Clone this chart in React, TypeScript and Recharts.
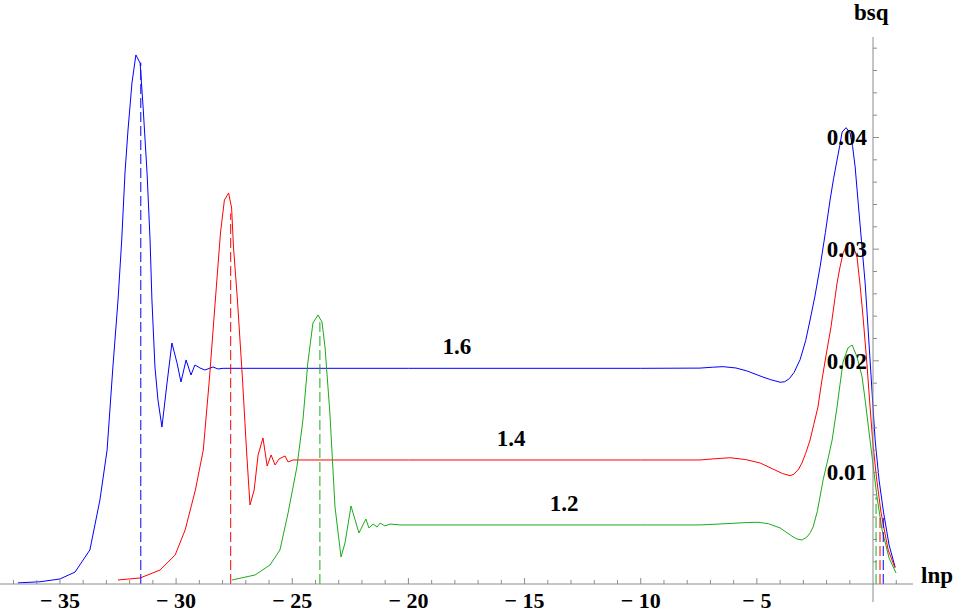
import React from "react";
import { LineChart, Line, XAxis, YAxis, ReferenceLine, ReferenceDot } from "recharts";

// lnp / bsq curves
const blue16: [number, number][] = [
  [-36.81, 0.0001], [-35.86, 0.0002], [-35.0, 0.00045], [-34.35, 0.00107], [-33.71, 0.00305],
  [-33.28, 0.00752], [-32.97, 0.012], [-32.72, 0.01944], [-32.5, 0.02544], [-32.34, 0.03082],
  [-32.2, 0.03682], [-32.07, 0.04067], [-31.9, 0.04488], [-31.73, 0.04739], [-31.55, 0.04667],
  [-31.42, 0.04273], [-31.25, 0.03682], [-31.12, 0.03082], [-31.04, 0.02544], [-30.91, 0.01944],
  [-30.78, 0.01648], [-30.61, 0.01406], [-30.39, 0.01801], [-30.18, 0.02159], [-29.96, 0.0198],
  [-29.79, 0.0181], [-29.57, 0.02007], [-29.36, 0.01872], [-29.19, 0.01962], [-28.97, 0.01935],
  [-28.76, 0.01917], [-28.41, 0.01944], [-28.2, 0.01926], [-27.98, 0.01932], [-20.0, 0.01932],
  [-10.0, 0.01932], [-7.45, 0.01934], [-6.9, 0.01942], [-6.46, 0.01947], [-5.9, 0.01935],
  [-5.42, 0.01908], [-4.74, 0.01854], [-4.4, 0.0183], [-4.0, 0.01807], [-3.8, 0.01812],
  [-3.6, 0.0184], [-3.4, 0.01895], [-3.14, 0.0201], [-2.9, 0.0218], [-2.71, 0.02365],
  [-2.5, 0.0258], [-2.28, 0.0284], [-2.05, 0.0315], [-1.85, 0.0344], [-1.7, 0.0363],
  [-1.55, 0.03798], [-1.43, 0.0393], [-1.33, 0.04049], [-1.16, 0.04088], [-0.99, 0.0404],
  [-0.88, 0.0392], [-0.77, 0.03736], [-0.65, 0.0344], [-0.5, 0.0308], [-0.34, 0.02696],
  [-0.22, 0.0231], [-0.11, 0.01944], [-0.02, 0.01648], [0.09, 0.0129], [0.26, 0.0093],
  [0.45, 0.00645], [0.69, 0.00349], [0.95, 0.00152],
];

const red14: [number, number][] = [
  [-32.5, 0.00036], [-31.55, 0.00054], [-30.69, 0.00125], [-30.04, 0.0026], [-29.61, 0.00484],
  [-29.17, 0.00842], [-28.83, 0.012], [-28.57, 0.01827], [-28.31, 0.02544], [-28.09, 0.03144],
  [-27.92, 0.0344], [-27.74, 0.03503], [-27.61, 0.03368], [-27.53, 0.03019], [-27.36, 0.02544],
  [-27.14, 0.01827], [-26.97, 0.012], [-26.82, 0.00708], [-26.64, 0.00842], [-26.47, 0.01156],
  [-26.26, 0.01308], [-26.08, 0.01057], [-25.91, 0.01156], [-25.74, 0.01066], [-25.57, 0.0112],
  [-25.31, 0.01147], [-25.18, 0.01093], [-24.97, 0.01111], [-20.0, 0.01111], [-10.0, 0.01111],
  [-7.45, 0.01111], [-6.8, 0.01122], [-6.16, 0.01131], [-5.5, 0.01115], [-4.86, 0.01084],
  [-4.22, 0.01021], [-3.9, 0.0099], [-3.57, 0.0097], [-3.4, 0.00985], [-3.2, 0.0103],
  [-3.06, 0.01084], [-2.9, 0.0117], [-2.71, 0.0129], [-2.55, 0.0143], [-2.37, 0.01586],
  [-2.2, 0.01827], [-2.02, 0.02051], [-1.81, 0.02302], [-1.55, 0.02696], [-1.42, 0.0284],
  [-1.29, 0.02965], [-1.14, 0.0303], [-0.99, 0.03055], [-0.84, 0.0302], [-0.69, 0.02929],
  [-0.56, 0.0268], [-0.43, 0.02392], [-0.26, 0.01962], [-0.15, 0.01648], [-0.02, 0.0129],
  [0.15, 0.0095], [0.34, 0.00645], [0.65, 0.00305], [0.95, 0.00143],
];

const green12: [number, number][] = [
  [-27.59, 0.00036], [-26.6, 0.00081], [-25.96, 0.0017], [-25.53, 0.00305], [-25.18, 0.00636],
  [-24.8, 0.01048], [-24.54, 0.01469], [-24.33, 0.0198], [-24.11, 0.02338], [-23.89, 0.0241],
  [-23.72, 0.02347], [-23.59, 0.02123], [-23.38, 0.01532], [-23.16, 0.0069], [-22.9, 0.00242],
  [-22.73, 0.00367], [-22.47, 0.00699], [-22.13, 0.00457], [-21.83, 0.00582], [-21.7, 0.00502],
  [-21.52, 0.00537], [-21.35, 0.00511], [-21.22, 0.00546], [-21.01, 0.0052], [-20.79, 0.00537],
  [-20.36, 0.00529], [-10.0, 0.00529], [-7.45, 0.00529], [-6.16, 0.00542], [-5.5, 0.0055],
  [-4.95, 0.00553], [-4.5, 0.0054], [-4.0, 0.00502], [-3.5, 0.0043], [-3.3, 0.00405],
  [-3.06, 0.00394], [-2.85, 0.0042], [-2.7, 0.0046], [-2.58, 0.00511], [-2.4, 0.0065],
  [-2.15, 0.00932], [-1.95, 0.0111], [-1.76, 0.0129], [-1.55, 0.01586], [-1.42, 0.0179],
  [-1.29, 0.0199], [-1.08, 0.02114], [-0.9, 0.02141], [-0.69, 0.02034], [-0.47, 0.01854],
  [-0.34, 0.01648], [-0.13, 0.0129], [0.17, 0.00779], [0.39, 0.00484], [0.69, 0.00233],
  [0.99, 0.00099],
];

// dashed drop lines: [lnp, bsq top]
const blueDrops: [number, number][] = [[-31.52, 0.0467], [0.44, 0.006]];
const redDrops: [number, number][] = [[-27.65, 0.0332], [0.3, 0.006]];
const greenDrops: [number, number][] = [[-23.81, 0.0235], [0.13, 0.0078]];

// curve labels: [lnp, bsq, text]
const curveLabels: [number, number, string][] = [
  [-17.91, 0.02132, "1.6"],
  [-15.58, 0.01308, "1.4"],
  [-13.3, 0.00726, "1.2"],
];

const X_TICKS = [
  -37, -36, -35, -34, -33, -32, -31, -30, -29, -28, -27, -26, -25, -24, -23, -22, -21, -20,
  -19, -18, -17, -16, -15, -14, -13, -12, -11, -10, -9, -8, -7, -6, -5, -4, -3, -2, -1, 1,
];
const Y_TICKS = [
  0.002, 0.004, 0.006, 0.008, 0.01, 0.012, 0.014, 0.016, 0.018, 0.02, 0.022, 0.024,
  0.026, 0.028, 0.03, 0.032, 0.034, 0.036, 0.038, 0.04, 0.042, 0.044, 0.046, 0.048,
];

const BLUE = "#0000ff";
const RED = "#ff0000";
const GREEN = "#1aab1a";
const AXIS = "#8c8c8c";
const SERIF = "'Liberation Serif', 'Times New Roman', serif";

const toRows = (pts: [number, number][]) => pts.map(([lnp, bsq]) => ({ lnp, bsq }));

function XTick({ x, y, payload }: any) {
  const v = payload.value as number;
  const major = v % 5 === 0;
  return (
    <g>
      <line x1={x} y1={y} x2={x} y2={y - (major ? 6 : 4)} stroke={AXIS} />
      {major && (
        <text x={x} y={y + 24} textAnchor="middle" fontSize={22} fontWeight="bold" fontFamily={SERIF} fill="#000">
          {`\u2212 ${Math.abs(v)}`}
        </text>
      )}
    </g>
  );
}

function YTick({ x, y, payload }: any) {
  const v = payload.value as number;
  const major = Math.abs(v * 100 - Math.round(v * 100)) < 1e-6;
  return (
    <g>
      <line x1={x} y1={y} x2={x + (major ? 6 : 4)} y2={y} stroke={AXIS} />
      {major && (
        <text x={x - 6} y={y + 8} textAnchor="end" fontSize={23} fontWeight="bold" fontFamily={SERIF} fill="#000">
          {v.toFixed(2)}
        </text>
      )}
    </g>
  );
}

export default function App() {
  const series = [
    { rows: toRows(blue16), color: BLUE, drops: blueDrops },
    { rows: toRows(red14), color: RED, drops: redDrops },
    { rows: toRows(green12), color: GREEN, drops: greenDrops },
  ];

  return (
    <div style={{ position: "absolute", left: 0, top: 0, width: 960, height: 613, background: "#fff" }}>
      <div style={{ position: "absolute", left: 0, top: 0 }}>
        <LineChart width={960} height={613} margin={{ top: 37, right: 47, bottom: 0, left: 0 }}>
          <XAxis
            type="number"
            dataKey="lnp"
            domain={[-37.58, 1.72]}
            ticks={X_TICKS}
            interval={0}
            allowDataOverflow
            height={29}
            tickSize={0}
            tickMargin={0}
            tickLine={false}
            axisLine={{ stroke: AXIS }}
            tick={<XTick />}
          />
          <YAxis type="number" dataKey="bsq" domain={[0, 0.049]} allowDataOverflow hide />
          {series.map((s, i) => (
            <Line
              key={`line-${i}`}
              data={s.rows}
              dataKey="bsq"
              type="linear"
              stroke={s.color}
              strokeWidth={1}
              dot={false}
              activeDot={false}
              isAnimationActive={false}
            />
          ))}
          {series.flatMap((s, i) =>
            s.drops.map(([x, top], j) => (
              <ReferenceLine
                key={`drop-${i}-${j}`}
                segment={[{ x, y: 0 }, { x, y: top }]}
                stroke={s.color}
                strokeDasharray="10 4"
                strokeWidth={1}
              />
            ))
          )}
          {curveLabels.map(([x, y, text]) => (
            <ReferenceDot
              key={text}
              x={x}
              y={y}
              r={0}
              stroke="none"
              fill="none"
              label={{ value: text, position: "center", fontSize: 23, fontWeight: "bold", fontFamily: SERIF, fill: "#000" }}
            />
          ))}
        </LineChart>
      </div>
      <div style={{ position: "absolute", left: 0, top: 0, pointerEvents: "none" }}>
        <LineChart width={960} height={613} margin={{ top: 37, right: 0, bottom: 11, left: 0 }}>
          <XAxis type="number" domain={[0, 1]} hide />
          <YAxis
            type="number"
            domain={[-0.0016, 0.049]}
            ticks={Y_TICKS}
            interval={0}
            allowDataOverflow
            width={873}
            tickSize={0}
            tickMargin={0}
            tickLine={false}
            axisLine={{ stroke: AXIS }}
            tick={<YTick />}
          />
        </LineChart>
      </div>
      <div style={{ position: "absolute", left: 854, top: 0, fontFamily: SERIF, fontWeight: "bold", fontSize: 23, lineHeight: "26px" }}>
        bsq
      </div>
      <div style={{ position: "absolute", left: 921, top: 563, fontFamily: SERIF, fontWeight: "bold", fontSize: 23, lineHeight: "26px" }}>
        lnp
      </div>
    </div>
  );
}
